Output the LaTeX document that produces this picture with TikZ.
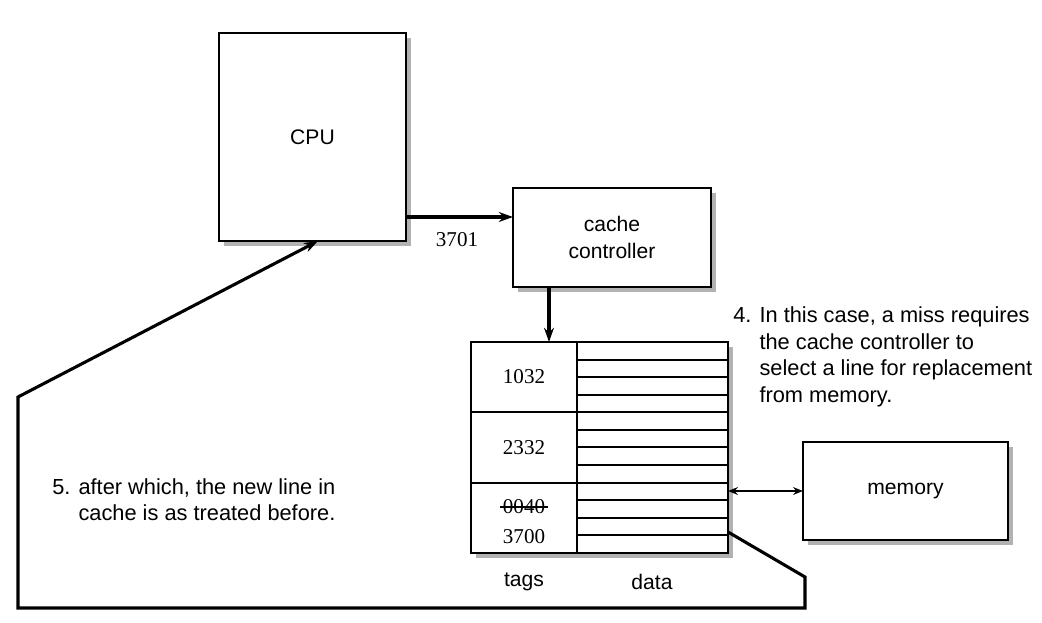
\documentclass[tikz,border=0pt]{standalone}
\usepackage{fontspec}
\setmainfont{Liberation Sans}
\newfontfamily\numfont{Liberation Serif}
\usetikzlibrary{arrows.meta, shadows}
\tikzset{
  box/.style={rectangle, draw, line width=1.4pt, fill=white, outer sep=0pt, inner sep=0pt, align=center,
    drop shadow={shadow xshift=3.5pt, shadow yshift=-3.5pt, fill=black!30, opacity=1}},
  arrow/.style={-{Stealth[length=10pt, width=7pt]}, line width=2.4pt},
  twoway/.style={{Stealth[length=7pt, width=5.5pt]}-{Stealth[length=7pt, width=5.5pt]}, line width=1.1pt},
  tag/.style={font=\numfont\fontsize{15}{18}\selectfont, inner sep=1pt},
  note/.style={anchor=base west, font=\fontsize{15.5}{18.8}\selectfont, inner sep=0pt},
}

\begin{document}
\begin{tikzpicture}[x=0.025cm, y=-0.025cm, font=\fontsize{15}{19.8}\selectfont]
  \useasboundingbox (0,0) rectangle (1042,623);
  \node[box, minimum width=4.675cm, minimum height=5.2cm] (cpu) at (312.5,137) {CPU};
  \node[box, minimum width=4.95cm, minimum height=2.475cm] (ctrl) at (612,237.5) {cache\\controller};
  \node[box, minimum width=6.425cm, minimum height=5.275cm] (cache) at (599.5,447.5) {};
  \node[box, minimum width=5.125cm, minimum height=2.45cm] (mem) at (905.5,491) {memory};

  % lines of the cache
  \foreach \k in {1,2,3,5,6,7,9,10,11}
    \draw[line width=1.4pt] (577,{342+17.58*\k}) -- (728,{342+17.58*\k});
  \foreach \k in {4,8}
    \draw[line width=1.4pt] (471,{342+17.58*\k}) -- (728,{342+17.58*\k});
  \draw[line width=1.4pt] (577,342) -- (577,553);

  \node[tag] (tagA) at (524,377) {1032};
  \node[tag] (tagB) at (524,448) {2332};
  \node[tag] (tagOld) at (524,507) {0040};
  \node[tag] (tagC) at (524,537) {3700};
  \draw[line width=1pt] ([xshift=-1pt]tagOld.west) -- ([xshift=1pt]tagOld.east);
  \node (tags) at (524,582) {tags};
  \node (data) at (652,582) {data};
  \node[tag] (addr) at (457,240) {3701};

  \draw[arrow] (cpu.east |- 0,217) -- (ctrl.west |- 0,217);
  \draw[arrow] (ctrl.south -| 549,0) -- (cache.north -| 549,0);
  \draw[twoway] (cache.east |- mem.west) -- (mem.west);
  \draw[arrow, line width=2.2pt] (cache.east |- 0,532) -- (805,577) -- (805,608) -- (18,608) -- (18,397) -- (cpu.south -| 318,0);

  \node[note] (missnote) at (733,323) {\begin{tabular}[t]{@{}l@{ }l@{}}
    4. & In this case, a miss requires\\
       & the cache controller to\\
       & select a line for replacement\\
       & from memory.
  \end{tabular}};
  \node[note] (afternote) at (52,494) {\begin{tabular}[t]{@{}l@{ }l@{}}
    5. & after which, the new line in\\
       & cache is as treated before.
  \end{tabular}};
\end{tikzpicture}
\end{document}
